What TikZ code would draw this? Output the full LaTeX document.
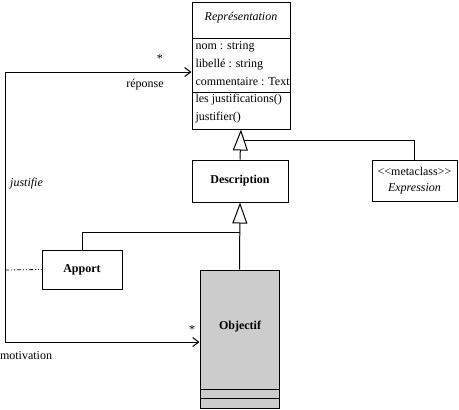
\documentclass[tikz,border=0pt]{standalone}
\usepackage{fontspec}
\setmainfont{Liberation Serif}
\usetikzlibrary{arrows.meta}
\definecolor{objgray}{RGB}{204,204,204}

\begin{document}
\begin{tikzpicture}[x=1pt, y=-1pt, line width=1pt,
  box/.style={draw, rectangle, inner sep=0pt},
  txt/.style={inner sep=0pt, font=\fontsize{12}{16}\selectfont},
  itxt/.style={inner sep=0pt, font=\fontsize{12}{16}\selectfont\itshape},
  btxt/.style={inner sep=0pt, font=\fontsize{12}{16}\selectfont\bfseries},
  gen/.style={-{Triangle[open, length=21pt, width=15pt]}},
  assoc/.style={{Straight Barb[length=6pt, width=9pt]}-{Straight Barb[length=6pt, width=9pt]}},
  dashdot/.style={dash pattern=on 4pt off 2pt on 1pt off 2pt on 1pt off 2pt, line width=0.8pt}]
          \useasboundingbox (0,0) rectangle (459,410);
          \node[box, minimum width=98pt, minimum height=127pt] (rep) at (241,65.5) {};
          \draw (192,38) -- (290,38);
          \draw (192,92) -- (290,92);
          \node[itxt] (reptitle) at (241,18) {Représentation};
          \node[txt, anchor=west] (nom) at (195,47) {nom : string};
          \node[txt, anchor=west] (libelle) at (195,65) {libellé : string};
          \node[txt, anchor=west] (comm) at (195,82) {commentaire : Text};
          \node[txt, anchor=west] (lesjust) at (195,100) {les justifications()};
          \node[txt, anchor=west] (justifier) at (195,118) {justifier()};
          \node[box, btxt, minimum width=96pt, minimum height=42pt] (desc) at (240,181) {Description};
          \node[box, txt, align=center, minimum width=85pt, minimum height=41pt] (expr) at (414.5,180.5) {<\kern0pt<metaclass>\kern0pt>\\\textit{Expression}};
          \node[box, btxt, minimum width=80pt, minimum height=39pt] (apport) at (82,269.5) {Apport};
          \node[box, fill=objgray, minimum width=79pt, minimum height=138pt] (obj) at (239.5,339) {};
          \draw (200,389) -- (279,389);
          \draw (200,398) -- (279,398);
          \node[btxt] (objname) at (240,327) {Objectif};
          \draw[gen] (desc.north) -- (rep.south);
          \draw[gen] (obj.north) -- (desc.south);
          \coordinate (j1) at (244,140);
          \coordinate (j2) at (240,232);
          \draw (expr.north) |- (j1);
          \draw (apport.north) |- (j2);
          \coordinate (c1) at (5,72);
          \coordinate (c2) at (5,342);
          \coordinate (c3) at (5,270);
          \draw[assoc] (c2 -| obj.west) -- (c2) -- (c1) -- (c1 -| rep.west);
          \draw[dashdot] (c3) -- (apport.west);
          \node[txt] (star1) at (160,59) {*};
          \node[txt] (reponse) at (145,85) {réponse};
          \node[itxt] (justifie) at (26.5,184) {justifie};
          \node[txt] (star2) at (192,330) {*};
          \node[txt] (motivation) at (26,356) {motivation};
        \end{tikzpicture}
\end{document}
